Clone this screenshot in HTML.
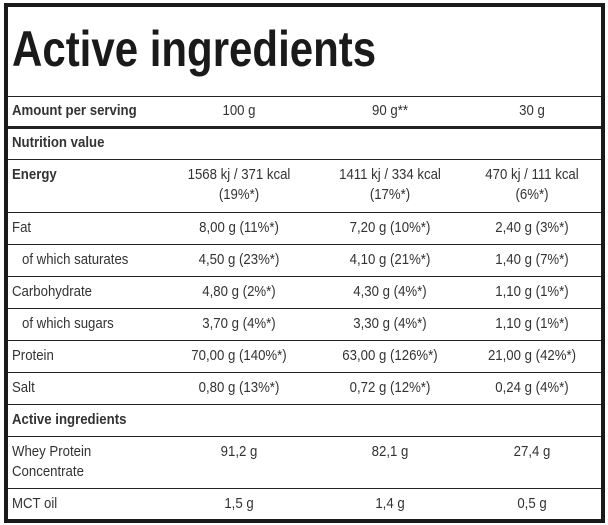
<!DOCTYPE html>
<html><head><meta charset="utf-8"><style>
*{margin:0;padding:0;box-sizing:border-box}
body{width:608px;height:525px;background:#fff;font-family:"Liberation Sans",sans-serif;color:#333;position:relative;overflow:hidden}
.frame{position:absolute;left:4px;top:3px;width:601px;height:520px;border:4px solid #1a1a1a}
.title{position:absolute;left:12px;top:20px;font-size:50px;font-weight:bold;color:#1a1a1a;transform:scaleX(0.84);transform-origin:left top}
.hl{position:absolute;left:8px;width:593px;height:1px;background:#222}
.t{position:absolute;font-size:15px;line-height:20px;white-space:nowrap;transform:scaleX(0.88);transform-origin:left top}
.b{font-weight:bold}
.c{text-align:center;width:200px;transform-origin:center top}
</style></head><body>
<div class="frame"></div>
<div class="title">Active ingredients</div>
<div class="hl" style="top:96px"></div>
<div class="hl" style="top:126px;height:3px"></div>
<div class="hl" style="top:159px"></div>
<div class="hl" style="top:212px"></div>
<div class="hl" style="top:244px"></div>
<div class="hl" style="top:276px"></div>
<div class="hl" style="top:308px"></div>
<div class="hl" style="top:340px"></div>
<div class="hl" style="top:372px"></div>
<div class="hl" style="top:404px"></div>
<div class="hl" style="top:436px"></div>
<div class="hl" style="top:488px"></div>

<div class="t b" style="left:12px;top:101px">Amount per serving</div>
<div class="t c" style="left:139px;top:101px">100 g</div>
<div class="t c" style="left:290px;top:101px">90 g**</div>
<div class="t c" style="left:432px;top:101px">30 g</div>

<div class="t b" style="left:12px;top:133px">Nutrition value</div>

<div class="t b" style="left:12px;top:165px">Energy</div>
<div class="t c" style="left:139px;top:165px">1568 kj / 371 kcal<br>(19%*)</div>
<div class="t c" style="left:290px;top:165px">1411 kj / 334 kcal<br>(17%*)</div>
<div class="t c" style="left:432px;top:165px">470 kj / 111 kcal<br>(6%*)</div>

<div class="t" style="left:12px;top:218px">Fat</div>
<div class="t c" style="left:139px;top:218px">8,00 g (11%*)</div>
<div class="t c" style="left:290px;top:218px">7,20 g (10%*)</div>
<div class="t c" style="left:432px;top:218px">2,40 g (3%*)</div>

<div class="t" style="left:22px;top:250px">of which saturates</div>
<div class="t c" style="left:139px;top:250px">4,50 g (23%*)</div>
<div class="t c" style="left:290px;top:250px">4,10 g (21%*)</div>
<div class="t c" style="left:432px;top:250px">1,40 g (7%*)</div>

<div class="t" style="left:12px;top:282px">Carbohydrate</div>
<div class="t c" style="left:139px;top:282px">4,80 g (2%*)</div>
<div class="t c" style="left:290px;top:282px">4,30 g (4%*)</div>
<div class="t c" style="left:432px;top:282px">1,10 g (1%*)</div>

<div class="t" style="left:22px;top:314px">of which sugars</div>
<div class="t c" style="left:139px;top:314px">3,70 g (4%*)</div>
<div class="t c" style="left:290px;top:314px">3,30 g (4%*)</div>
<div class="t c" style="left:432px;top:314px">1,10 g (1%*)</div>

<div class="t" style="left:12px;top:346px">Protein</div>
<div class="t c" style="left:139px;top:346px">70,00 g (140%*)</div>
<div class="t c" style="left:290px;top:346px">63,00 g (126%*)</div>
<div class="t c" style="left:432px;top:346px">21,00 g (42%*)</div>

<div class="t" style="left:12px;top:378px">Salt</div>
<div class="t c" style="left:139px;top:378px">0,80 g (13%*)</div>
<div class="t c" style="left:290px;top:378px">0,72 g (12%*)</div>
<div class="t c" style="left:432px;top:378px">0,24 g (4%*)</div>

<div class="t b" style="left:12px;top:410px">Active ingredients</div>

<div class="t" style="left:12px;top:442px">Whey Protein<br>Concentrate</div>
<div class="t c" style="left:139px;top:442px">91,2 g</div>
<div class="t c" style="left:290px;top:442px">82,1 g</div>
<div class="t c" style="left:432px;top:442px">27,4 g</div>

<div class="t" style="left:12px;top:494px">MCT oil</div>
<div class="t c" style="left:139px;top:494px">1,5 g</div>
<div class="t c" style="left:290px;top:494px">1,4 g</div>
<div class="t c" style="left:432px;top:494px">0,5 g</div>
</body></html>
